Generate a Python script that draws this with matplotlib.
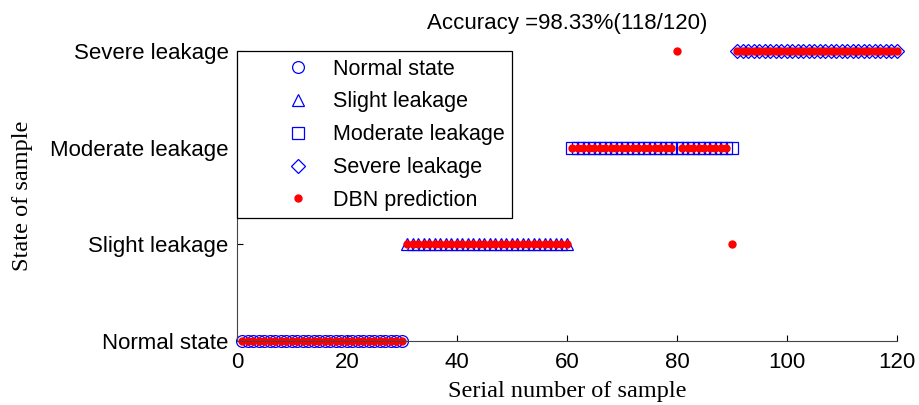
import numpy as np
import matplotlib

matplotlib.use("Agg")
import matplotlib.pyplot as plt

# true state per sample (1=normal, 2=slight, 3=moderate, 4=severe)
state_names = ["Normal state", "Slight leakage", "Moderate leakage", "Severe leakage"]
normal_idx = list(range(1, 31))
slight_idx = list(range(31, 61))
moderate_idx = list(range(61, 91))
severe_idx = list(range(91, 121))

# DBN predictions, two misclassified samples
pred_idx = list(range(1, 121))
pred_state = [1] * 30 + [2] * 30 + [3] * 30 + [4] * 30
misclassified = {80: 4, 90: 2}
for k, v in misclassified.items():
    pred_state[k - 1] = v

plt.rcParams["font.family"] = ["Liberation Sans", "DejaVu Sans"]

fig = plt.figure(figsize=(9.19, 4.05), dpi=100)
ax = fig.add_axes([237 / 919, 1 - 341 / 405, 660 / 919, 290 / 405])

blue = "#0000ff"
ms = 8.5
ax.plot(normal_idx, [1] * len(normal_idx), "o", mfc="none", mec=blue, ms=ms, mew=0.9,
        label="Normal state", clip_on=False)
ax.plot(slight_idx, [2] * len(slight_idx), "^", mfc="none", mec=blue, ms=ms * 1.05, mew=0.9,
        label="Slight leakage", clip_on=False)
ax.plot(moderate_idx, [3] * len(moderate_idx), "s", mfc="none", mec=blue, ms=ms, mew=0.9,
        label="Moderate leakage", clip_on=False)
ax.plot(severe_idx, [4] * len(severe_idx), "D", mfc="none", mec=blue, ms=ms * 0.85, mew=0.9,
        label="Severe leakage", clip_on=False)
ax.plot(pred_idx, pred_state, "o", color="red", ms=5, ls="none",
        label="DBN prediction", clip_on=False)

ax.set_xlim(0, 120)
ax.set_ylim(1, 4)
ax.set_xticks([0, 20, 40, 60, 80, 100, 120])
ax.set_yticks([1, 2, 3, 4])
ax.set_yticklabels(state_names)
ax.tick_params(direction="in", labelsize=16, length=4)
ax.tick_params(axis="x", pad=8)
ax.tick_params(axis="y", pad=6)
ax.spines["top"].set_visible(False)
ax.spines["right"].set_visible(False)
for s in ("left", "bottom"):
    ax.spines[s].set_color("#444444")

ax.set_xlabel("Serial number of sample", family="Liberation Serif", fontsize=17.5, labelpad=6)
ax.set_ylabel("State of sample", family="Liberation Serif", fontsize=17.5, labelpad=12)
ax.set_title("Accuracy =98.33%(118/120)", fontsize=16, pad=16)

leg = ax.legend(loc="upper left", bbox_to_anchor=(0.0, 1.0), fontsize=15.5,
                frameon=True, fancybox=False, framealpha=1, edgecolor="black",
                handlelength=5.0, handletextpad=-0.9, borderpad=0.35, labelspacing=0.55,
                borderaxespad=0.0)
leg.get_frame().set_linewidth(0.9)

fig.savefig("out.png", dpi=100)
